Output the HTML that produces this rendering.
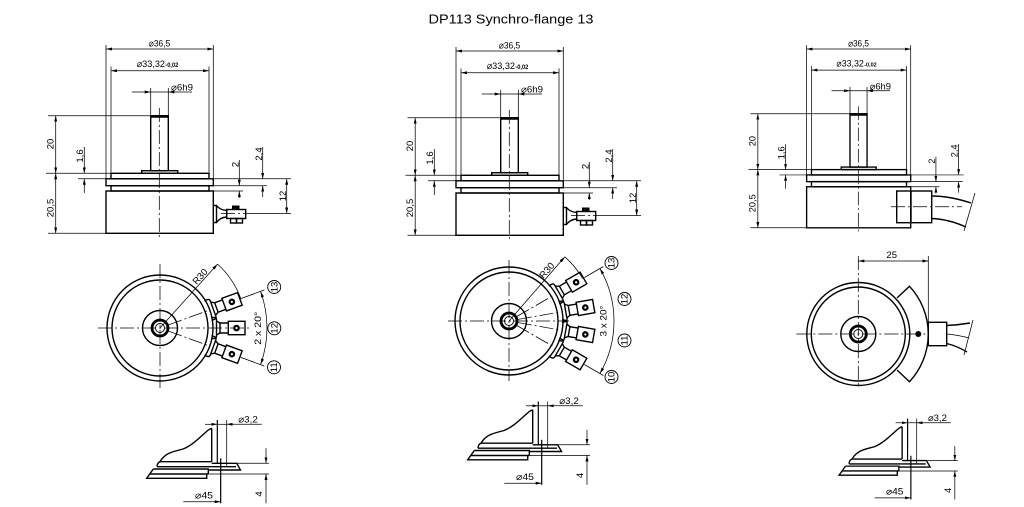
<!DOCTYPE html>
<html><head><meta charset="utf-8"><style>
html,body{margin:0;padding:0;background:#fff;width:1024px;height:507px;overflow:hidden}
svg{display:block}
.o{fill:none;stroke:#000;stroke-width:1.4}
.d{fill:none;stroke:#000;stroke-width:0.75}
.c{fill:none;stroke:#000;stroke-width:0.75;stroke-dasharray:14 3 2 3}
.t{font-family:"Liberation Sans","DejaVu Sans",sans-serif;font-size:9.5px;fill:#000}
.s{font-family:"Liberation Sans","DejaVu Sans",sans-serif;font-size:6px;font-weight:bold;fill:#000}
</style></head><body>
<svg width="1024" height="507" viewBox="0 0 1024 507" xmlns="http://www.w3.org/2000/svg">
<defs>
<marker id="ar" viewBox="0 0 6 3" refX="6" refY="1.5" markerWidth="6" markerHeight="3" orient="auto-start-reverse" markerUnits="userSpaceOnUse"><path d="M0,0L6,1.5L0,3z" fill="#000"/></marker>

<g id="side">
<rect class="o" x="150.7" y="115.7" width="17.6" height="55"/>
<line x1="150.7" y1="116.7" x2="168.3" y2="116.7" stroke="#000" stroke-width="2.2"/>
<rect class="o" x="141.7" y="170.7" width="36" height="2.6"/>
<rect class="o" x="111" y="173.3" width="98" height="5.5"/>
<rect class="o" x="106" y="178.8" width="107.3" height="6.9"/>
<rect class="o" x="111" y="185.7" width="98" height="5.3"/>
<rect class="o" x="106" y="191" width="107.3" height="42.3"/>
<line class="c" x1="159.3" y1="108" x2="159.3" y2="239"/>
<path class="d" d="M106,45V178.8M213.3,45V178.8M111,66.5V173.3M209,66.5V173.3M150.7,88V115.7M168.3,88V115.7M150.7,92H168.3"/>
<line class="d" x1="106" y1="49" x2="213.3" y2="49" marker-start="url(#ar)" marker-end="url(#ar)"/>
<line class="d" x1="111" y1="70.7" x2="209" y2="70.7" marker-start="url(#ar)" marker-end="url(#ar)"/>
<line class="d" x1="131.7" y1="92" x2="150.7" y2="92" marker-end="url(#ar)"/>
<line class="d" x1="192" y1="92" x2="168.3" y2="92" marker-end="url(#ar)"/>
<path class="d" d="M78,178.8H106"/>
<line class="d" x1="84.3" y1="147" x2="84.3" y2="173.3" marker-end="url(#ar)"/>
<line class="d" x1="84.3" y1="193" x2="84.3" y2="178.8" marker-end="url(#ar)"/>
<path class="d" d="M213.3,178.8H268M213.3,185.7H267M213.3,191H243"/>
<line class="d" x1="239.3" y1="160" x2="239.3" y2="185.7" marker-end="url(#ar)"/>
<line class="d" x1="239.3" y1="198" x2="239.3" y2="191" marker-end="url(#ar)"/>
<line class="d" x1="262.7" y1="147" x2="262.7" y2="178.8" marker-end="url(#ar)"/>
<line class="d" x1="262.7" y1="197" x2="262.7" y2="185.7" marker-end="url(#ar)"/>
</g>

<g id="ld">
<path class="d" d="M48,115.7H150.7M46,173.3H111M48,233.3H106"/>
<line class="d" x1="55.7" y1="115.7" x2="55.7" y2="173.3" marker-start="url(#ar)" marker-end="url(#ar)"/>
<line class="d" x1="55.7" y1="173.3" x2="55.7" y2="233.3" marker-start="url(#ar)" marker-end="url(#ar)"/>
</g>

<g id="conn">
<path class="d" d="M268,178.8H291M246,213.5H291"/>
<line class="d" x1="286.7" y1="178.8" x2="286.7" y2="213.5" marker-start="url(#ar)" marker-end="url(#ar)"/>
<path class="o" d="M213.3,205.5H216.5Q220,210 226.7,210.5V217Q220,217.5 216.5,222.5H213.3M216.5,205.5V222.5"/>
<rect class="o" x="226.7" y="209.5" width="19" height="9"/>
<rect x="232" y="205.5" width="7.5" height="4" fill="#000"/>
<rect class="o" x="230.5" y="218.5" width="6" height="4.5"/>
<rect class="o" x="236.5" y="218.5" width="6" height="4.5"/>
<line class="c" x1="221" y1="213.5" x2="246" y2="213.5"/>
</g>

<g id="term">
<path class="o" d="M51,-10.5H54Q56.5,-10.5 56.5,-8V8Q56.5,10.5 54,10.5H51"/>
<path class="o" d="M56.5,-7L60,-5H68.3M56.5,7L60,5H68.3M60,-5V5"/>
<rect class="o" x="68.3" y="-6.7" width="16.7" height="13.4"/>
<circle cx="76.5" cy="0" r="3.3" fill="#000"/>
<circle cx="76.5" cy="0" r="1.1" fill="#fff"/>
</g>

<g id="fin">
<path class="o" d="M211.7,428.3V461.7M208.3,430L211.7,428.3M208.3,430C200,437 193,445 183,449C172,452 165,453 160,461.7"/>
<path class="o" d="M160,461.7H211.7M157,466.7H211.7M160,461.7Q157,463 157,466.7"/>
<path class="o" d="M211.7,463.3H236.7L240.5,470H208.3M211.7,466.7H236"/>
<path class="o" d="M153.3,469H208.3V474M150,474H208.3M153.3,469L146.7,478.3H206.7V474"/>
<path d="M217.3,420V464" stroke="#000" stroke-width="1.2" fill="none"/>
<path class="d" d="M226.7,420V467"/>
<line x1="220.7" y1="458.3" x2="220.7" y2="503.3" stroke="#000" stroke-width="1.2"/>
<line class="d" x1="205" y1="424.3" x2="217.3" y2="424.3" marker-end="url(#ar)"/>
<line class="d" x1="261.7" y1="424.3" x2="226.7" y2="424.3" marker-end="url(#ar)"/>
<line class="d" x1="217.3" y1="424.3" x2="226.7" y2="424.3"/>
<line class="d" x1="183.3" y1="501.7" x2="220.7" y2="501.7" marker-end="url(#ar)"/>
<path class="d" d="M237,463.3H269M208.3,474H269"/>
<line class="d" x1="266" y1="448.3" x2="266" y2="463.3" marker-end="url(#ar)"/>
<line class="d" x1="266" y1="503.3" x2="266" y2="474" marker-end="url(#ar)"/>
</g>
</defs>

<text x="511" y="23.5" font-family="Liberation Sans, Arial, sans-serif" font-size="13" text-anchor="middle" textLength="165" lengthAdjust="spacingAndGlyphs">DP113 Synchro-flange 13</text>

<!-- ===== Side view 1 ===== -->
<g>
<use href="#side"/><use href="#ld"/><use href="#conn"/>
<text class="t" x="159.5" y="46.5" text-anchor="middle" textLength="21.5" lengthAdjust="spacingAndGlyphs">⌀36,5</text>
<text class="t" x="136.7" y="67" textLength="28.3" lengthAdjust="spacingAndGlyphs">⌀33,32</text>
<text class="s" x="165.3" y="67" textLength="13" lengthAdjust="spacingAndGlyphs">-0,02</text>
<text class="t" x="171" y="90.5" textLength="22" lengthAdjust="spacingAndGlyphs">⌀6h9</text>
<text class="t" transform="translate(53.5,144) rotate(-90)" text-anchor="middle">20</text>
<text class="t" transform="translate(53.5,208) rotate(-90)" text-anchor="middle">20,5</text>
<text class="t" transform="translate(83,156) rotate(-90)" text-anchor="middle">1,6</text>
<text class="t" transform="translate(238.3,164.5) rotate(-90)" text-anchor="middle">2</text>
<text class="t" transform="translate(261.8,154) rotate(-90)" text-anchor="middle">2,4</text>
<text class="t" transform="translate(286,196) rotate(-90)" text-anchor="middle">12</text>
</g>

<!-- ===== Side view 2 ===== -->
<g transform="translate(350,2)">
<use href="#side"/><use href="#ld" transform="translate(9.5,0)"/><use href="#conn"/>
<text class="t" x="159.5" y="46.5" text-anchor="middle" textLength="21.5" lengthAdjust="spacingAndGlyphs">⌀36,5</text>
<text class="t" x="136.7" y="67" textLength="28.3" lengthAdjust="spacingAndGlyphs">⌀33,32</text>
<text class="s" x="165.3" y="67" textLength="13" lengthAdjust="spacingAndGlyphs">-0,02</text>
<text class="t" x="171" y="90.5" textLength="22" lengthAdjust="spacingAndGlyphs">⌀6h9</text>
<text class="t" transform="translate(63,144) rotate(-90)" text-anchor="middle">20</text>
<text class="t" transform="translate(63,206) rotate(-90)" text-anchor="middle">20,5</text>
<text class="t" transform="translate(83,156) rotate(-90)" text-anchor="middle">1,6</text>
<text class="t" transform="translate(238.3,164.5) rotate(-90)" text-anchor="middle">2</text>
<text class="t" transform="translate(261.8,154) rotate(-90)" text-anchor="middle">2,4</text>
<text class="t" transform="translate(286,196) rotate(-90)" text-anchor="middle">12</text>
</g>

<!-- ===== Side view 3 ===== -->
<g transform="translate(703.8,1.5) scale(0.97)">
<use href="#side"/><use href="#ld"/>
<text class="t" x="159.5" y="46.5" text-anchor="middle" textLength="21.5" lengthAdjust="spacingAndGlyphs">⌀36,5</text>
<text class="t" x="136.7" y="67" textLength="28.3" lengthAdjust="spacingAndGlyphs">⌀33,32</text>
<text class="s" x="165.3" y="67" textLength="13" lengthAdjust="spacingAndGlyphs">-0,02</text>
<text class="t" x="171" y="90.5" textLength="22" lengthAdjust="spacingAndGlyphs">⌀6h9</text>
<text class="t" transform="translate(53.5,144) rotate(-90)" text-anchor="middle">20</text>
<text class="t" transform="translate(53.5,208) rotate(-90)" text-anchor="middle">20,5</text>
<text class="t" transform="translate(83,156) rotate(-90)" text-anchor="middle">1,6</text>
<text class="t" transform="translate(238.3,164.5) rotate(-90)" text-anchor="middle">2</text>
<text class="t" transform="translate(261.8,154) rotate(-90)" text-anchor="middle">2,4</text>
</g>
<rect class="o" x="896.7" y="191" width="35" height="31.7" fill="#fff"/>
<line class="o" x1="911" y1="191" x2="911" y2="222.7"/>
<line class="c" x1="891" y1="206.7" x2="962" y2="206.7"/>
<path class="o" d="M931.7,196Q950,196 971,203M931.7,218.5Q948,219 966,227"/>
<path class="d" d="M975,193L964,231"/>

<!-- ===== Top view 1 ===== -->
<g transform="translate(160,328)">
<circle class="o" r="53"/><circle class="o" r="48"/>
<circle class="o" r="17.5" stroke-width="1"/>
<circle r="8" fill="none" stroke="#000" stroke-width="2.8"/>
<circle r="4.5" fill="none" stroke="#000" stroke-width="0.9"/>
<line class="c" x1="-62" y1="0" x2="90" y2="0"/>
<line class="c" x1="0" y1="-64" x2="0" y2="60"/>
<line class="c" x1="9" y1="0" x2="52" y2="0" transform="rotate(-20)"/>
<line class="c" x1="9" y1="0" x2="52" y2="0" transform="rotate(20)"/>
<use href="#term" transform="rotate(-20)"/>
<use href="#term"/>
<use href="#term" transform="rotate(20)"/>
<line class="d" x1="86" y1="0" x2="111" y2="0" transform="rotate(-20)"/>
<line class="d" x1="86" y1="0" x2="111" y2="0" transform="rotate(20)"/>
<line class="d" x1="0" y1="0" x2="86" y2="0" transform="rotate(-48)" marker-end="url(#ar)"/>
<path class="d" d="M57.55,-63.9A86,86 0 0 1 80.8,-29.4"/>
<path class="d" d="M100.55,-36.6A107,107 0 0 1 100.55,36.6" marker-start="url(#ar)" marker-end="url(#ar)"/>
</g>
<text class="t" transform="translate(202.4,278.7) rotate(-48)" text-anchor="middle">R30</text>
<text class="t" transform="translate(261,328.3) rotate(-90)" text-anchor="middle" textLength="33" lengthAdjust="spacingAndGlyphs">2 x 20°</text>
<g fill="none" stroke="#000" stroke-width="0.9">
<circle cx="274.2" cy="287" r="6.5"/><circle cx="274.3" cy="328.3" r="6.5"/><circle cx="274" cy="367.3" r="6.5"/>
</g>
<text class="t" font-size="8.5" transform="translate(277.3,287) rotate(-90)" text-anchor="middle">13</text>
<text class="t" font-size="8.5" transform="translate(277.4,328.3) rotate(-90)" text-anchor="middle">12</text>
<text class="t" font-size="8.5" transform="translate(277.1,367.3) rotate(-90)" text-anchor="middle">11</text>

<!-- ===== Top view 2 ===== -->
<g transform="translate(509,321)">
<circle class="o" r="54"/><circle class="o" r="49"/>
<circle class="o" r="17.5" stroke-width="1"/>
<circle r="8" fill="none" stroke="#000" stroke-width="2.8"/>
<circle r="4.5" fill="none" stroke="#000" stroke-width="0.9"/>
<line class="c" x1="-61" y1="0" x2="60" y2="0"/>
<line class="c" x1="0" y1="-61" x2="0" y2="60"/>
<line class="c" x1="9" y1="0" x2="53" y2="0" transform="rotate(-30)"/>
<line class="c" x1="9" y1="0" x2="53" y2="0" transform="rotate(-10)"/>
<line class="c" x1="9" y1="0" x2="53" y2="0" transform="rotate(10)"/>
<line class="c" x1="9" y1="0" x2="53" y2="0" transform="rotate(30)"/>
<use href="#term" transform="rotate(-30) translate(1,0)"/>
<use href="#term" transform="rotate(-10) translate(1,0)"/>
<use href="#term" transform="rotate(10) translate(1,0)"/>
<use href="#term" transform="rotate(30) translate(1,0)"/>
<line class="d" x1="87" y1="0" x2="109" y2="0" transform="rotate(-30)"/>
<line class="d" x1="87" y1="0" x2="109" y2="0" transform="rotate(30)"/>
<line class="d" x1="0" y1="0" x2="85" y2="0" transform="rotate(-49)" marker-end="url(#ar)"/>
<path class="d" d="M55.8,-64.2A85,85 0 0 1 73.6,-42.5"/>
<path class="d" d="M90.93,-52.5A105,105 0 0 1 90.93,52.5" marker-start="url(#ar)" marker-end="url(#ar)"/>
</g>
<text class="t" transform="translate(549.2,272.5) rotate(-49)" text-anchor="middle">R30</text>
<text class="t" transform="translate(606.5,321) rotate(-90)" text-anchor="middle" textLength="31" lengthAdjust="spacingAndGlyphs">3 x 20°</text>
<g fill="none" stroke="#000" stroke-width="0.9">
<circle cx="611.5" cy="263" r="6.5"/><circle cx="624.5" cy="299" r="6.5"/><circle cx="624.5" cy="340.5" r="6.5"/><circle cx="611.5" cy="377" r="6.5"/>
</g>
<text class="t" font-size="8.5" transform="translate(614.6,263) rotate(-90)" text-anchor="middle">13</text>
<text class="t" font-size="8.5" transform="translate(627.6,299) rotate(-90)" text-anchor="middle">12</text>
<text class="t" font-size="8.5" transform="translate(627.6,340.5) rotate(-90)" text-anchor="middle">11</text>
<text class="t" font-size="8.5" transform="translate(614.6,377) rotate(-90)" text-anchor="middle">10</text>

<!-- ===== Top view 3 ===== -->
<g transform="translate(858.3,334)">
<circle class="o" r="51.5"/><circle class="o" r="47"/>
<circle class="o" r="17.5" stroke-width="1"/>
<circle r="8" fill="none" stroke="#000" stroke-width="2.8"/>
<circle r="4.5" fill="none" stroke="#000" stroke-width="0.9"/>
<path class="o" d="M38.8,-36.1L51.2,-47.7A70,70 0 0 1 51.2,47.7L38.8,36.1"/>
<circle cx="60" cy="0" r="3" fill="#000"/>
<line class="c" x1="-62" y1="0" x2="68" y2="0"/>
<line class="c" x1="0" y1="-78" x2="0" y2="53"/>
</g>
<rect class="o" x="928.3" y="322.3" width="18.4" height="23.4"/>
<path class="o" d="M946.7,325.5Q958,325 970,323M946.7,343.5Q957,346 967,352"/>
<path class="d" d="M946.7,334Q958,335 969,338M973,320L964,355"/>
<path class="d" d="M928.3,256V322.3"/>
<line class="d" x1="858.3" y1="261" x2="928.3" y2="261" marker-start="url(#ar)" marker-end="url(#ar)"/>
<text class="t" x="891.7" y="258" text-anchor="middle">25</text>

<!-- ===== Fin details ===== -->
<g>
<use href="#fin"/>
<text class="t" x="238.3" y="422.5" textLength="19.5" lengthAdjust="spacingAndGlyphs">⌀3,2</text>
<text class="t" x="195" y="498.5" textLength="18" lengthAdjust="spacingAndGlyphs">⌀45</text>
<text class="t" transform="translate(262,494) rotate(-90)" text-anchor="middle">4</text>
</g>
<g transform="translate(321,-18.5)">
<use href="#fin"/>
<text class="t" x="238.3" y="422.5" textLength="19.5" lengthAdjust="spacingAndGlyphs">⌀3,2</text>
<text class="t" x="195" y="498.5" textLength="18" lengthAdjust="spacingAndGlyphs">⌀45</text>
<text class="t" transform="translate(262,494) rotate(-90)" text-anchor="middle">4</text>
</g>
<g transform="translate(696.8,11.2) scale(0.97)">
<use href="#fin"/>
<text class="t" x="238.3" y="422.5" textLength="19.5" lengthAdjust="spacingAndGlyphs">⌀3,2</text>
<text class="t" x="195" y="498.5" textLength="18" lengthAdjust="spacingAndGlyphs">⌀45</text>
<text class="t" transform="translate(262,494) rotate(-90)" text-anchor="middle">4</text>
</g>
</svg>
</body></html>
